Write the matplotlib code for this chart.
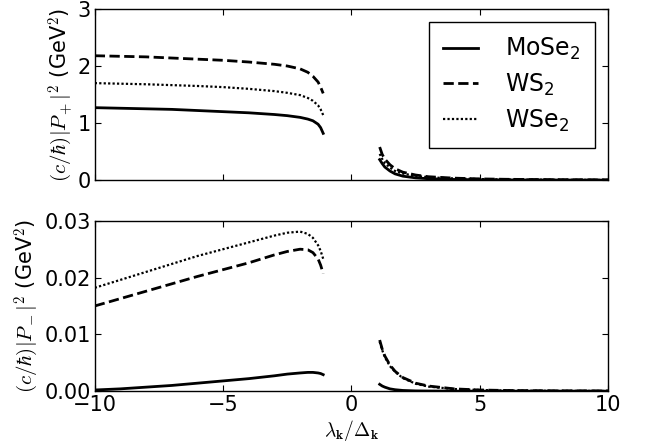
import matplotlib
matplotlib.use('Agg')
import matplotlib.pyplot as plt
import numpy as np

# lambda_k / Delta_k grid (left and right branches)
lam_left = [-10, -9, -8, -7, -6, -5, -4, -3, -2.5, -2, -1.7, -1.5, -1.3, -1.2, -1.1]
lam_right = [1.1, 1.2, 1.3, 1.5, 1.7, 2, 2.5, 3, 4, 5, 6, 7, 8, 9, 10]

# |P+|^2 (GeV^2)
pp_mose2_l = [1.27, 1.26, 1.25, 1.24, 1.22, 1.20, 1.18, 1.15, 1.13, 1.10, 1.07, 1.04, 0.98, 0.92, 0.82]
pp_ws2_l = [2.18, 2.17, 2.16, 2.14, 2.12, 2.10, 2.07, 2.03, 2.00, 1.95, 1.89, 1.82, 1.72, 1.63, 1.52]
pp_wse2_l = [1.70, 1.69, 1.68, 1.665, 1.65, 1.63, 1.60, 1.56, 1.53, 1.49, 1.44, 1.39, 1.31, 1.24, 1.14]
pp_mose2_r = [0.36, 0.29, 0.23, 0.16, 0.11, 0.07, 0.04, 0.025, 0.012, 0.007, 0.004, 0.003, 0.002, 0.0015, 0.001]
pp_ws2_r = [0.58, 0.45, 0.37, 0.27, 0.20, 0.14, 0.09, 0.06, 0.035, 0.022, 0.015, 0.011, 0.008, 0.006, 0.005]
pp_wse2_r = [0.46, 0.37, 0.30, 0.22, 0.16, 0.115, 0.075, 0.05, 0.03, 0.019, 0.013, 0.009, 0.007, 0.005, 0.004]

# |P-|^2 (GeV^2)
pm_mose2_l = [0.0002, 0.0004, 0.0007, 0.0010, 0.0014, 0.0018, 0.0022, 0.0027, 0.0030, 0.0032, 0.0033, 0.0033, 0.0032, 0.0031, 0.0029]
pm_ws2_l = [0.0150, 0.0163, 0.0176, 0.0189, 0.0202, 0.0214, 0.0226, 0.0240, 0.0246, 0.0250, 0.0249, 0.0244, 0.0233, 0.0222, 0.0207]
pm_wse2_l = [0.0182, 0.0196, 0.0210, 0.0224, 0.0238, 0.0250, 0.0262, 0.0274, 0.0279, 0.0281, 0.0277, 0.0270, 0.0257, 0.0247, 0.0233]
pm_mose2_r = [0.0012, 0.0009, 0.0007, 0.0004, 0.00025, 0.00012, 0.00004, 0.00002, 0.0, 0.0, 0.0, 0.0, 0.0, 0.0, 0.0]
pm_ws2_r = [0.0090, 0.0074, 0.0062, 0.0046, 0.0035, 0.0024, 0.0014, 0.0009, 0.0004, 0.0002, 0.00012, 0.00008, 0.00005, 0.00004, 0.00003]
pm_wse2_r = [0.0087, 0.0072, 0.0060, 0.0044, 0.0034, 0.0023, 0.0013, 0.0008, 0.00037, 0.0002, 0.00011, 0.00007, 0.00005, 0.00004, 0.00003]

labels = ['MoSe$_2$', 'WS$_2$', 'WSe$_2$']

plt.rcParams['mathtext.fontset'] = 'cm'
plt.rcParams['xtick.direction'] = 'in'
plt.rcParams['ytick.direction'] = 'in'
plt.rcParams['xtick.top'] = True
plt.rcParams['ytick.right'] = True
plt.rcParams['xtick.major.size'] = 4
plt.rcParams['ytick.major.size'] = 4
plt.rcParams['axes.linewidth'] = 1.0

fig = plt.figure(figsize=(6.49, 4.47), dpi=100)
ax1 = fig.add_axes([0.146, 0.597, 0.791, 0.383])
ax2 = fig.add_axes([0.146, 0.125, 0.791, 0.381])

top_l = [pp_mose2_l, pp_ws2_l, pp_wse2_l]
top_r = [pp_mose2_r, pp_ws2_r, pp_wse2_r]
bot_l = [pm_mose2_l, pm_ws2_l, pm_wse2_l]
bot_r = [pm_mose2_r, pm_ws2_r, pm_wse2_r]

def style(i):
  if i == 0:
    return dict(ls='-', lw=2, color='k')
  if i == 1:
    return dict(ls='--', lw=2, color='k')
  return dict(ls=(0, (1, 1)), lw=1.6, color='k')

for i in range(3):
  ax1.plot(lam_left, top_l[i], label=labels[i], **style(i))
  ax1.plot(lam_right, top_r[i], **style(i))
  ax2.plot(lam_left, bot_l[i], **style(i))
  ax2.plot(lam_right, bot_r[i], **style(i))

ax1.set_xlim(-10, 10)
ax1.set_ylim(0, 3)
ax1.set_yticks([0, 1, 2, 3])
ax1.set_xticks([-10, -5, 0, 5, 10])
ax1.set_xticklabels([])
ax1.set_ylabel(r'$(c/\hbar)|P_+|^2$ (GeV$^2$)', fontsize=15, labelpad=2)

ax2.set_xlim(-10, 10)
ax2.set_ylim(0, 0.03)
ax2.set_yticks([0, 0.01, 0.02, 0.03])
ax2.set_yticklabels(['0.00', '0.01', '0.02', '0.03'])
ax2.set_xticks([-10, -5, 0, 5, 10])
ax2.set_ylabel(r'$(c/\hbar)|P_-|^2$ (GeV$^2$)', fontsize=15, labelpad=2)
ax2.set_xlabel(r'$\lambda_\mathbf{k}/\Delta_\mathbf{k}$', fontsize=14, labelpad=2)

for ax in [ax1, ax2]:
  ax.tick_params(labelsize=15, pad=3)

leg = ax1.legend(loc='upper right', fontsize=17, fancybox=False, edgecolor='k',
                 framealpha=1, handlelength=1.5, handletextpad=1.15,
                 borderaxespad=0.55, borderpad=0.6, labelspacing=0.4)
leg.get_frame().set_linewidth(1.0)
for t in leg.get_texts():
  t.set_math_fontfamily('dejavusans')

fig.savefig('out.png', dpi=100)
